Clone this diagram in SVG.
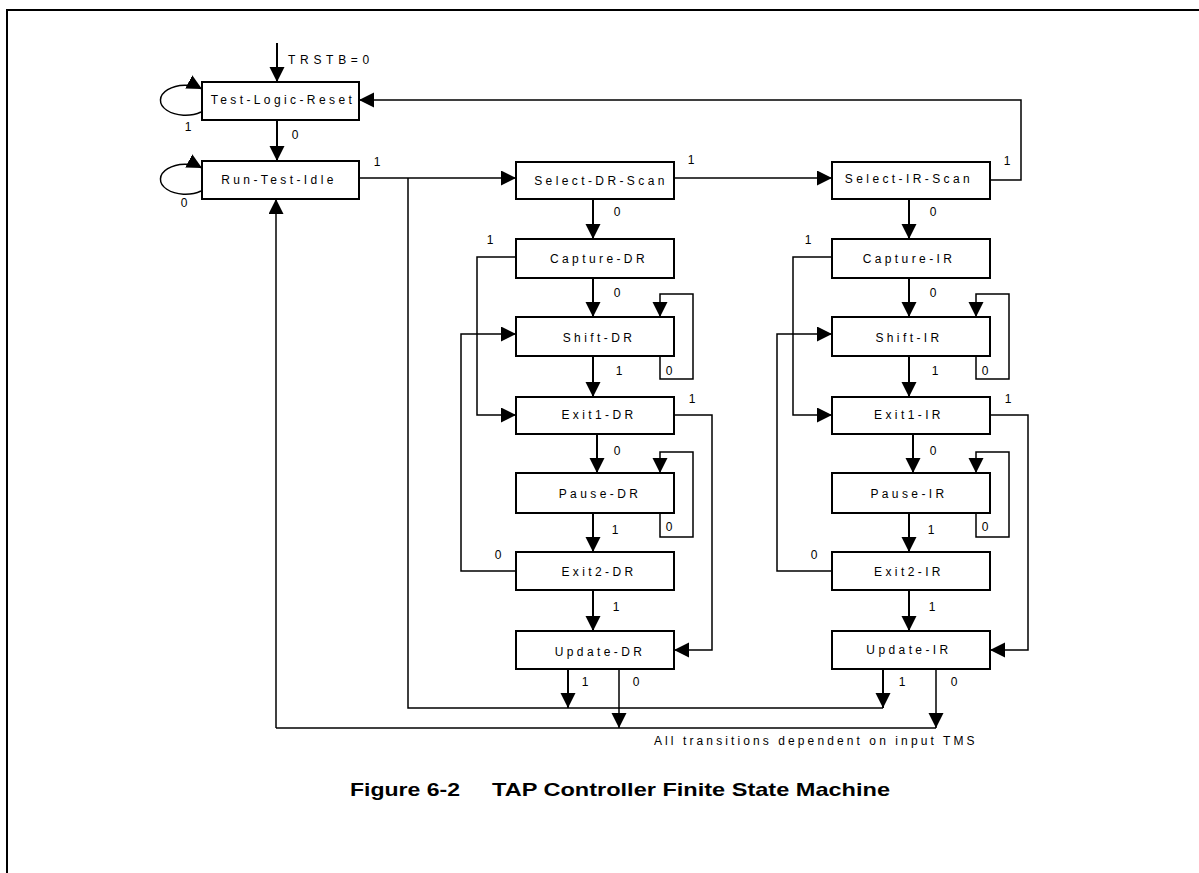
<svg xmlns="http://www.w3.org/2000/svg" width="1199" height="873" viewBox="0 0 1199 873">
<style>
.box{fill:#fff;stroke:#000;stroke-width:2}
.lbl{font-family:"Liberation Sans",Arial,sans-serif;font-size:12px;letter-spacing:3.4px;text-anchor:middle;fill:#000}
.num{font-family:"Liberation Sans",Arial,sans-serif;font-size:12px;text-anchor:middle;fill:#000}
.ln{fill:none;stroke:#000;stroke-width:1.5}
.ar{fill:none;stroke:#000;stroke-width:2;marker-end:url(#ah)}
.arl{fill:none;stroke:#000;stroke-width:1.5;marker-end:url(#ah)}
.title{font-family:"Liberation Sans",Arial,sans-serif;font-size:18.5px;font-weight:bold;fill:#000}
</style>
<defs>
<marker id="ah" markerUnits="userSpaceOnUse" markerWidth="16" markerHeight="16" refX="15" refY="7.5" orient="auto">
<path d="M0,0 L15,7.5 L0,15 z" fill="#000"/>
</marker>
</defs>
<rect width="1199" height="873" fill="#fff"/>
<g id="frame"><path d="M7,873 V10 H1199" fill="none" stroke="#000" stroke-width="2"/></g>

<g id="connectors">
<path class="ar" d="M277,43 V82"/>
<path class="ar" d="M277,120 V161"/>
<path class="arl" d="M201,112 A25 15 0 1 1 202,89"/>
<path class="arl" d="M201,191 A25 15 0 1 1 202,168"/>
<path class="arl" d="M359,178 H516"/>
<path class="ln" d="M408,178 V708 H883"/>
<path class="arl" d="M674,178 H832"/>
<path class="arl" d="M990,180 H1021 V100 H359"/>
<path class="ln" d="M276,728 H936"/>
<path class="arl" d="M276,728 V199"/>

<path class="ar" d="M593,199 V239"/>
<path class="arl" d="M516,257 H477 V415 H516"/>
<path class="ar" d="M593,278 V317"/>
<path class="arl" d="M660,356 V379 H693 V294 H660 V317"/>
<path class="ar" d="M593,356 V397"/>
<path class="arl" d="M674,415 H712 V650 H674"/>
<path class="ar" d="M597,434 V473"/>
<path class="arl" d="M660,513 V537 H693 V452 H660 V473"/>
<path class="ar" d="M593,513 V552"/>
<path class="arl" d="M516,571 H461 V334 H516"/>
<path class="ar" d="M593,590 V631"/>
<path class="ar" d="M568,669 V708"/>
<path class="arl" d="M619,669 V728"/>

<path class="ar" d="M909,199 V239"/>
<path class="arl" d="M832,257 H793 V415 H832"/>
<path class="ar" d="M909,278 V317"/>
<path class="arl" d="M976,356 V379 H1009 V294 H976 V317"/>
<path class="ar" d="M909,356 V397"/>
<path class="arl" d="M990,415 H1028 V650 H990"/>
<path class="ar" d="M913,434 V473"/>
<path class="arl" d="M976,513 V537 H1009 V452 H976 V473"/>
<path class="ar" d="M909,513 V552"/>
<path class="arl" d="M832,571 H777 V334 H832"/>
<path class="ar" d="M909,590 V631"/>
<path class="ar" d="M883,669 V708"/>
<path class="arl" d="M936,669 V728"/>
</g>

<g id="edge-labels">
<text class="lbl" x="288" y="64" style="text-anchor:start;letter-spacing:4.7px">TRSTB=0</text>
<text class="num" x="188" y="131">1</text>
<text class="num" x="295" y="139">0</text>
<text class="num" x="377" y="166">1</text>
<text class="num" x="184" y="207">0</text>
<text class="num" x="691" y="164">1</text>
<text class="num" x="1007" y="165">1</text>

<text class="num" x="617" y="216">0</text>
<text class="num" x="490" y="244">1</text>
<text class="num" x="617" y="297">0</text>
<text class="num" x="669" y="375">0</text>
<text class="num" x="619" y="375">1</text>
<text class="num" x="692" y="403">1</text>
<text class="num" x="617" y="455">0</text>
<text class="num" x="669" y="531">0</text>
<text class="num" x="615" y="534">1</text>
<text class="num" x="498" y="559">0</text>
<text class="num" x="616" y="611">1</text>
<text class="num" x="585" y="686">1</text>
<text class="num" x="636" y="686">0</text>

<text class="num" x="933" y="216">0</text>
<text class="num" x="808" y="244">1</text>
<text class="num" x="933" y="297">0</text>
<text class="num" x="985" y="375">0</text>
<text class="num" x="935" y="375">1</text>
<text class="num" x="1008" y="403">1</text>
<text class="num" x="933" y="455">0</text>
<text class="num" x="985" y="531">0</text>
<text class="num" x="931" y="534">1</text>
<text class="num" x="814" y="559">0</text>
<text class="num" x="932" y="611">1</text>
<text class="num" x="902" y="686">1</text>
<text class="num" x="954" y="686">0</text>
</g>

<g id="node-test-logic-reset"><rect class="box" x="202" y="82" width="157" height="38"/><text class="lbl" x="283" y="104">Test-Logic-Reset</text></g>
<g id="node-run-test-idle"><rect class="box" x="202" y="161" width="157" height="38"/><text class="lbl" x="279" y="184">Run-Test-Idle</text></g>

<g id="node-select-dr-scan"><rect class="box" x="516" y="162" width="158" height="37"/><text class="lbl" x="601" y="185">Select-DR-Scan</text></g>
<g id="node-capture-dr"><rect class="box" x="516" y="239" width="158" height="39"/><text class="lbl" x="599" y="263">Capture-DR</text></g>
<g id="node-shift-dr"><rect class="box" x="516" y="317" width="158" height="39"/><text class="lbl" x="599" y="342">Shift-DR</text></g>
<g id="node-exit1-dr"><rect class="box" x="516" y="397" width="158" height="37"/><text class="lbl" x="599" y="419">Exit1-DR</text></g>
<g id="node-pause-dr"><rect class="box" x="516" y="473" width="158" height="40"/><text class="lbl" x="600" y="498">Pause-DR</text></g>
<g id="node-exit2-dr"><rect class="box" x="516" y="552" width="158" height="38"/><text class="lbl" x="599" y="576">Exit2-DR</text></g>
<g id="node-update-dr"><rect class="box" x="516" y="631" width="158" height="38"/><text class="lbl" x="600" y="656">Update-DR</text></g>

<g id="node-select-ir-scan"><rect class="box" x="832" y="162" width="158" height="37"/><text class="lbl" x="909" y="183">Select-IR-Scan</text></g>
<g id="node-capture-ir"><rect class="box" x="832" y="239" width="158" height="39"/><text class="lbl" x="909" y="263">Capture-IR</text></g>
<g id="node-shift-ir"><rect class="box" x="832" y="317" width="158" height="39"/><text class="lbl" x="909" y="342">Shift-IR</text></g>
<g id="node-exit1-ir"><rect class="box" x="832" y="397" width="158" height="37"/><text class="lbl" x="909" y="419">Exit1-IR</text></g>
<g id="node-pause-ir"><rect class="box" x="832" y="473" width="158" height="40"/><text class="lbl" x="909" y="498">Pause-IR</text></g>
<g id="node-exit2-ir"><rect class="box" x="832" y="552" width="158" height="38"/><text class="lbl" x="909" y="576">Exit2-IR</text></g>
<g id="node-update-ir"><rect class="box" x="832" y="631" width="158" height="38"/><text class="lbl" x="909" y="654">Update-IR</text></g>

<g id="notes">
<text class="lbl" x="654" y="745" style="text-anchor:start;letter-spacing:3.1px">All transitions dependent on input TMS</text>
<text class="title" x="350" y="796" textLength="110" lengthAdjust="spacingAndGlyphs">Figure 6-2</text>
<text class="title" x="492" y="796" textLength="398" lengthAdjust="spacingAndGlyphs">TAP Controller Finite State Machine</text>
</g>
</svg>
